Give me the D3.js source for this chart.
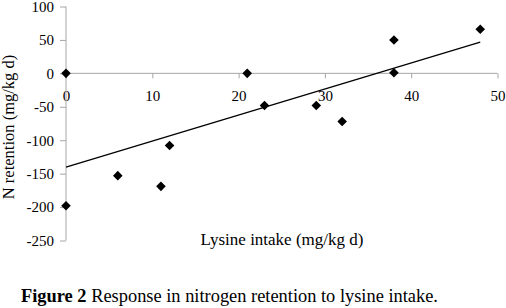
<!DOCTYPE html>
<html>
<head>
<meta charset="utf-8">
<script src="https://cdn.jsdelivr.net/npm/d3@7"></script>
<style>
  body { margin: 0; background: #fff; }
  svg { display: block; font-family: "Liberation Serif", "Times New Roman", serif; }
</style>
</head>
<body>
<div id="vis"></div>
<script>
// Lysine intake vs N retention, with linear trendline

const LYSINE = [0, 0, 6, 11, 12, 21, 23, 29, 32, 38, 38, 48];
const N_RET  = [0, -198, -153, -169, -108, 0, -48, -48, -72, 50, 1, 66];

const X_TICKS = [0, 10, 20, 30, 40, 50];
const Y_TICKS = [100, 50, 0, -50, -100, -150, -200, -250];

const W = 506, H = 308;
const AXIS_GREY = "#a6a6a6";

const data = LYSINE.map((x, i) => ({ x, y: N_RET[i] }));

const svg = d3.select("#vis").append("svg")
  .attr("width", W)
  .attr("height", H);

const xScale = d3.scaleLinear().domain([0, 50]).range([66, 497.5]);
const yScale = d3.scaleLinear().domain([-250, 100]).range([240.5, 6.5]);

// ── Axes ─────────────────────────────────────────────────────────────────────

// x axis crosses at y = 0
svg.append("g")
  .attr("transform", `translate(0,${yScale(0)})`)
  .call(d3.axisBottom(xScale).tickValues(X_TICKS).tickSize(5).tickPadding(12).tickFormat(d3.format("d")))
  .call(ax => ax.select(".domain").attr("stroke", AXIS_GREY).attr("d", `M${xScale(0)},0H${xScale(50)}`))
  .call(ax => ax.selectAll(".tick line").attr("stroke", AXIS_GREY))
  .selectAll("text")
    .attr("fill", "#000")
    .style("font-family", "Liberation Serif")
    .style("font-size", "15px");

svg.append("g")
  .attr("transform", `translate(${xScale(0)},0)`)
  .call(d3.axisLeft(yScale).tickValues(Y_TICKS).tickSize(6).tickPadding(6).tickFormat(d3.format("d")))
  .call(ax => ax.select(".domain").attr("stroke", AXIS_GREY).attr("d", `M0,${yScale(100)}V${yScale(-250)}`))
  .call(ax => ax.selectAll(".tick line").attr("stroke", AXIS_GREY))
  .selectAll("text")
    .attr("fill", "#000")
    .style("font-family", "Liberation Serif")
    .style("font-size", "15px")
    .text(d => String(d));

// ── Trendline (least squares) ────────────────────────────────────────────────

const mx = d3.mean(data, d => d.x), my = d3.mean(data, d => d.y);
const slope = d3.sum(data, d => (d.x - mx) * (d.y - my)) / d3.sum(data, d => (d.x - mx) ** 2);
const icpt = my - slope * mx;
const xr = d3.extent(data, d => d.x);

svg.append("line")
  .attr("x1", xScale(xr[0])).attr("y1", yScale(icpt + slope * xr[0]))
  .attr("x2", xScale(xr[1])).attr("y2", yScale(icpt + slope * xr[1]))
  .attr("stroke", "#000").attr("stroke-width", 1.3);

// ── Diamonds ────────────────────────────────────────────────────────────────

svg.append("g")
  .selectAll("path")
  .data(data)
  .join("path")
    .attr("d", d3.symbol(d3.symbolSquare, 46))
    .attr("transform", d => `translate(${xScale(d.x)},${yScale(d.y)}) rotate(45)`)
    .attr("fill", "#000");

// ── Labels ──────────────────────────────────────────────────────────────────

svg.append("text")
  .attr("x", 282).attr("y", 245)
  .attr("text-anchor", "middle")
  .style("font-size", "17px")
  .text("Lysine intake (mg/kg d)");

svg.append("text")
  .attr("transform", "translate(14,127) rotate(-90)")
  .attr("text-anchor", "middle")
  .style("font-size", "16.5px")
  .text("N retention (mg/kg d)");

const cap = svg.append("text")
  .attr("x", 21).attr("y", 302)
  .style("font-size", "18.4px");
cap.append("tspan").style("font-weight", "bold").text("Figure 2");
cap.append("tspan").text(" Response in nitrogen retention to lysine intake.");
</script>
</body>
</html>
